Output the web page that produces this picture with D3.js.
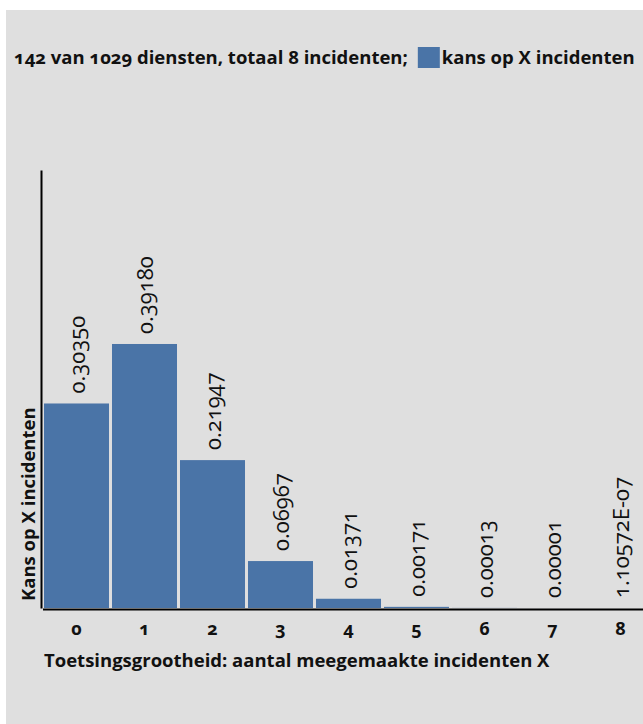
<!DOCTYPE html>
<html>
<head>
<meta charset="utf-8">
<script src="https://cdn.jsdelivr.net/npm/d3@7"></script>
<style>
  body { margin: 0; background: #fff; }
  svg text { font-family: "Open Sans", "Noto Sans", sans-serif; font-variant-numeric: oldstyle-nums; fill: #111; }
</style>
</head>
<body>
<svg id="chart" width="643" height="724"></svg>
<script>
// data
const categories = ['0', '1', '2', '3', '4', '5', '6', '7', '8']
const kansValues = [0.30350, 0.39180, 0.21947, 0.06967, 0.01371, 0.00171, 0.00013, 0.00001, 1.10572e-7]
const seriesName = 'kans op X incidenten'
const chartTitle = '142 van 1029 diensten, totaal 8 incidenten;'
const xTitle = 'Toetsingsgrootheid: aantal meegemaakte incidenten X'
const yTitle = 'Kans op X incidenten'

const barColor = '#4a74a7'
const labelSize = 18.5

const svg = d3.select('#chart')

svg.append('rect')
    .attr('x', 6)
    .attr('y', 10)
    .attr('width', 643)
    .attr('height', 724)
    .attr('fill', '#dfdfdf')

const x = d3.scaleBand()
    .domain(categories)
    .range([42.5, 654.5])
    .paddingInner(0.044)
    .paddingOuter(0.022)

const y = d3.scaleLinear()
    .domain([0, 0.65])
    .range([608, 170])

// label format like the source: 5 decimals, tiny values in E-notation
const fmt = function (v) {
    if (v >= 0.000005) return v.toFixed(5)
    let s = v.toExponential(5).toUpperCase()
    return s.replace(/E([+-])(\d)$/, 'E$10$2')
}

const g = svg.append('g')

g.selectAll('.bar')
    .data(kansValues)
    .join('rect')
    .attr('class', 'bar')
    .attr('x', (d, i) => x(categories[i]))
    .attr('y', d => y(d))
    .attr('width', x.bandwidth())
    .attr('height', d => y(0) - y(d))
    .attr('fill', barColor)

g.selectAll('.val')
    .data(kansValues)
    .join('text')
    .attr('class', 'val')
    .attr('transform', (d, i) => `translate(${x(categories[i]) + x.bandwidth() / 2 + 1},${y(d) - 10}) rotate(-90)`)
    .attr('dy', '0.35em')
    .attr('font-size', 22)
    .text(d => fmt(d))

// axes
const xAxis = svg.append('g')
    .attr('transform', `translate(0,${y(0) + 1})`)
    .call(d3.axisBottom(x).tickSize(0).tickPadding(13))
xAxis.select('.domain').attr('stroke', '#000').attr('stroke-width', 2)
xAxis.selectAll('text')
    .attr('font-size', 18)
    .attr('font-weight', 'bold')
    .attr('font-family', null)

const yAxis = svg.append('g')
    .attr('transform', 'translate(41,0)')
    .call(d3.axisLeft(y).ticks(0).tickSize(0))
yAxis.select('.domain').attr('stroke', '#000').attr('stroke-width', 2)

svg.append('text')
    .attr('x', 44)
    .attr('y', 667)
    .attr('font-size', labelSize)
    .attr('font-weight', 'bold')
    .text(xTitle)

svg.append('text')
    .attr('transform', 'translate(35,601) rotate(-90)')
    .attr('font-size', labelSize)
    .attr('font-weight', 'bold')
    .text(yTitle)

// title + legend
const legend = svg.append('g').attr('transform', 'translate(14,64)')
const t1 = legend.append('text')
    .attr('font-size', labelSize)
    .attr('font-weight', 'bold')
    .text(chartTitle)
const w1 = t1.node().getComputedTextLength()
legend.append('rect')
    .attr('x', w1 + 10)
    .attr('y', -17)
    .attr('width', 22)
    .attr('height', 21)
    .attr('fill', barColor)
legend.append('text')
    .attr('x', w1 + 34)
    .attr('font-size', labelSize)
    .attr('font-weight', 'bold')
    .text(seriesName)
</script>
</body>
</html>
